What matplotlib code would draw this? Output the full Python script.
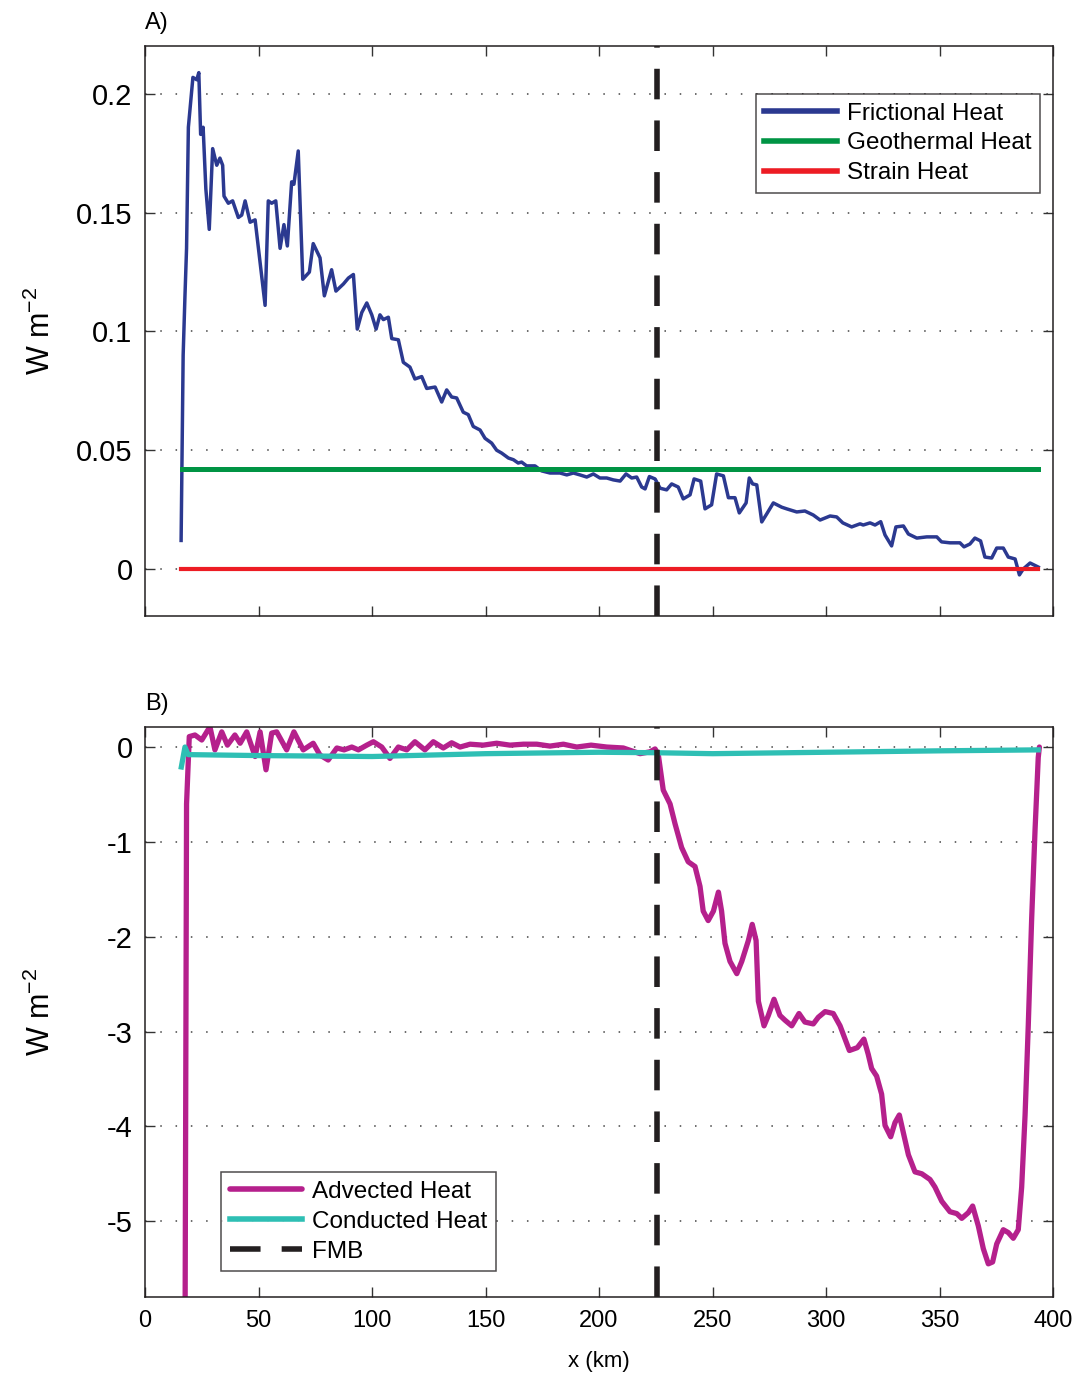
import matplotlib
matplotlib.use("Agg")
import matplotlib.pyplot as plt
import numpy as np

plt.rcParams["font.family"] = ["Liberation Sans", "DejaVu Sans"]
plt.rcParams["axes.unicode_minus"] = False
plt.rcParams["mathtext.fontset"] = "custom"
plt.rcParams["mathtext.rm"] = "Liberation Sans"
plt.rcParams["mathtext.it"] = "Liberation Sans:italic"

# ---- Panel A: heat sources along the flowline ----
fric_x = [15.9, 16.8, 17.6, 18.3, 19.1, 21.1, 22.8, 23.7, 24.5, 25.6, 26.8, 28.3, 29.8,
          31.6, 33.0, 34.2, 34.8, 36.7, 38.6, 41.1, 42.6, 44.1, 46.3, 48.5, 52.9, 54.3,
          55.8, 57.6, 59.5, 61.2, 62.7, 64.6, 65.6, 67.5, 69.5, 72.4, 74.1, 77.1, 79.0,
          82.2, 84.1, 87.4, 89.6, 91.8, 93.5, 95.5, 97.7, 99.9, 101.8, 103.5, 105.0,
          107.2, 108.7, 111.6, 113.8, 116.7, 118.9, 121.9, 124.1, 127.8, 130.7, 132.9,
          135.1, 137.3, 140.2, 142.4, 144.6, 147.6, 149.8, 152.7, 154.9, 157.1, 160.1,
          162.3, 164.4, 165.9, 168.1, 171.8, 174.7, 178.4, 182.8, 185.8, 188.7, 191.6,
          194.6, 197.5, 200.4, 203.4, 206.3, 209.3, 211.9, 214.4, 216.6, 218.8, 220.3,
          222.2, 224.7, 226.9, 229.8, 232.0, 234.9, 237.1, 240.1, 241.9, 244.8, 246.7,
          249.6, 251.8, 254.8, 257.0, 259.9, 261.8, 264.8, 266.2, 267.7, 269.5, 271.7,
          273.9, 276.8, 280.5, 282.7, 287.1, 290.7, 294.4, 297.4, 301.8, 304.7, 307.4,
          311.3, 315.0, 316.4, 319.4, 321.6, 324.1, 326.0, 328.9, 330.8, 334.1, 336.3,
          340.0, 344.4, 348.8, 350.9, 354.6, 359.0, 360.8, 363.4, 365.6, 368.1, 370.0,
          373.0, 375.2, 378.1, 380.3, 383.3, 385.2, 386.9, 389.9, 393.5]
fric_y = [0.012, 0.090, 0.115, 0.135, 0.186, 0.207, 0.206, 0.209, 0.183, 0.186, 0.160,
          0.143, 0.177, 0.170, 0.173, 0.170, 0.157, 0.154, 0.155, 0.148, 0.149, 0.155,
          0.146, 0.147, 0.111, 0.155, 0.154, 0.155, 0.135, 0.145, 0.136, 0.163, 0.162,
          0.176, 0.122, 0.125, 0.137, 0.131, 0.115, 0.126, 0.117, 0.120, 0.1225, 0.124,
          0.101, 0.108, 0.112, 0.107, 0.101, 0.107, 0.105, 0.106, 0.097, 0.0965, 0.087,
          0.085, 0.080, 0.081, 0.076, 0.0766, 0.0703, 0.0754, 0.0724, 0.072, 0.066,
          0.065, 0.060, 0.0585, 0.055, 0.053, 0.050, 0.0488, 0.0467, 0.046, 0.0446,
          0.045, 0.0434, 0.0434, 0.0413, 0.0404, 0.0404, 0.0396, 0.0404, 0.0396, 0.0387,
          0.040, 0.0383, 0.0383, 0.0375, 0.037, 0.040, 0.0383, 0.0387, 0.0345, 0.0337,
          0.0389, 0.0379, 0.034, 0.0333, 0.0358, 0.0345, 0.0295, 0.0312, 0.0379, 0.037,
          0.0253, 0.027, 0.040, 0.0392, 0.030, 0.030, 0.0236, 0.0278, 0.0383, 0.0358,
          0.0354, 0.0198, 0.0232, 0.0278, 0.026, 0.0253, 0.024, 0.0244, 0.0227, 0.0206,
          0.0223, 0.0219, 0.0194, 0.0177, 0.019, 0.0185, 0.0194, 0.0185, 0.0199, 0.0143,
          0.0097, 0.0177, 0.0181, 0.0147, 0.013, 0.0135, 0.0135, 0.0114, 0.011, 0.011,
          0.0093, 0.0105, 0.013, 0.0118, 0.005, 0.0046, 0.0088, 0.0088, 0.005, 0.0042,
          -0.0025, 0.0, 0.0025, 0.0008]

geo_x = [16.5, 393.5]
geo_y = [0.0421, 0.0421]
strain_x = [15.9, 393.5]
strain_y = [0.0, 0.0]

# ---- Panel B: advection and conduction ----
adv_x = [17.6, 18.3, 19.5, 22.0, 25.0, 28.6, 30.8, 33.8, 36.3, 39.6, 41.9, 44.8, 48.5,
         50.7, 53.3, 55.8, 58.0, 62.4, 65.6, 69.7, 74.1, 77.1, 80.7, 84.5, 87.7, 91.1,
         94.0, 97.7, 100.6, 104.3, 107.9, 111.6, 115.3, 118.9, 123.3, 127.0, 131.4,
         135.1, 138.8, 143.2, 149.0, 154.9, 160.8, 166.7, 172.6, 178.4, 184.3, 190.2,
         196.5, 203.4, 210.7, 218.1, 222.5, 224.7, 226.1, 228.3, 231.3, 233.5, 236.4,
         239.3, 242.3, 244.5, 245.9, 248.1, 250.4, 252.6, 254.0, 255.5, 257.7, 260.7,
         262.9, 265.8, 267.5, 269.2, 270.2, 272.7, 274.6, 277.1, 279.7, 281.9, 284.9,
         288.1, 290.7, 294.4, 296.6, 299.6, 303.2, 306.2, 310.3, 313.8, 316.7, 318.6,
         320.1, 322.3, 324.5, 326.0, 328.5, 330.4, 332.3, 334.1, 336.3, 339.2, 342.2,
         345.8, 348.0, 351.0, 354.6, 357.6, 359.8, 362.7, 364.6, 367.1, 369.3, 371.5,
         373.4, 375.2, 378.1, 380.3, 382.5, 384.7, 386.2, 387.7, 389.1, 390.6, 392.1,
         393.5, 394.0]
adv_y = [-6.5, -0.6, 0.11, 0.127, 0.074, 0.214, -0.03, 0.16, 0.02, 0.127, 0.04, 0.16,
         -0.10, 0.16, -0.24, 0.147, 0.16, -0.03, 0.16, -0.03, 0.04, -0.085, -0.137,
         -0.01, -0.03, 0.0, -0.03, 0.02, 0.056, 0.0, -0.12, 0.0, -0.03, 0.056, -0.03,
         0.056, -0.01, 0.045, 0.0, 0.03, 0.02, 0.04, 0.02, 0.03, 0.03, 0.01, 0.03, 0.0,
         0.02, 0.0, -0.01, -0.07, -0.05, -0.02, -0.077, -0.454, -0.60, -0.81, -1.06,
         -1.21, -1.26, -1.47, -1.73, -1.83, -1.73, -1.53, -1.73, -2.07, -2.26, -2.39,
         -2.26, -2.04, -1.87, -2.04, -2.68, -2.94, -2.83, -2.66, -2.83, -2.88, -2.94,
         -2.81, -2.90, -2.92, -2.85, -2.79, -2.81, -2.94, -3.20, -3.17, -3.08, -3.24,
         -3.39, -3.47, -3.66, -3.99, -4.11, -3.96, -3.88, -4.07, -4.30, -4.48, -4.50,
         -4.56, -4.64, -4.79, -4.90, -4.92, -4.97, -4.91, -4.84, -5.05, -5.29, -5.45,
         -5.43, -5.24, -5.09, -5.12, -5.18, -5.09, -4.64, -3.88, -2.94, -1.81, -0.87,
         -0.11, 0.0]

cond_x = [16.0, 17.6, 19.0, 50.0, 100.0, 150.0, 200.0, 225.0, 250.0, 300.0, 350.0, 393.5]
cond_y = [-0.21, 0.0, -0.08, -0.09, -0.10, -0.07, -0.055, -0.06, -0.07, -0.055, -0.04, -0.03]

fmb_x = 225.5

x_ticks = [0, 50, 100, 150, 200, 250, 300, 350, 400]
a_yticks = [0, 0.05, 0.1, 0.15, 0.2]
a_yticklabels = ["0", "0.05", "0.1", "0.15", "0.2"]
b_yticks = [-5, -4, -3, -2, -1, 0]
b_yticklabels = ["-5", "-4", "-3", "-2", "-1", "0"]

C_BLUE = "#2b3990"
C_GREEN = "#009444"
C_RED = "#ed1c24"
C_MAG = "#b5208c"
C_CYAN = "#2ebfb4"
C_BLACK = "#231f20"

fig = plt.figure(figsize=(10.83, 13.74), dpi=100)
axA = fig.add_axes([0.1339, 0.5517, 0.8384, 0.4148])
axB = fig.add_axes([0.1339, 0.0560, 0.8384, 0.4148])


def style(ax):
    ax.set_xlim(0, 400)
    ax.set_xticks(x_ticks)
    ax.tick_params(direction="in", top=True, right=True, length=7.5, width=1,
                   color="#333333")
    ax.tick_params(axis="x", labelsize=17, pad=9)
    ax.tick_params(axis="y", labelsize=21, pad=9)
    ax.yaxis.grid(True, linestyle=(0, (1, 9)), color="#444444", linewidth=1.1)
    ax.xaxis.grid(False)
    for s in ax.spines.values():
        s.set_linewidth(1.1)
        s.set_color("#231f20")
    ax.set_axisbelow(True)


def legend(ax, handles, labels, **kw):
    leg = ax.legend(handles, labels, fontsize=17.5, frameon=True, fancybox=False,
                    handlelength=3.0, handletextpad=0.4, borderpad=0.35,
                    labelspacing=0.32, borderaxespad=0, **kw)
    leg.get_frame().set_edgecolor(C_BLACK)
    leg.get_frame().set_linewidth(1.1)
    for h in leg.get_lines():
        h.set_linewidth(4)
    return leg


style(axA)
lf, = axA.plot(fric_x, fric_y, color=C_BLUE, lw=2.5, solid_joinstyle="round")
lg, = axA.plot(geo_x, geo_y, color=C_GREEN, lw=3.6)
ls, = axA.plot(strain_x, strain_y, color=C_RED, lw=3.0)
axA.axvline(fmb_x, color=C_BLACK, lw=4, dashes=(5.5, 3.8), zorder=5)
axA.set_ylim(-0.0198, 0.2202)
axA.set_yticks(a_yticks)
axA.set_yticklabels(a_yticklabels)
axA.tick_params(axis="x", labelbottom=False)
axA.set_ylabel("W m$^{-2}$", fontsize=22, labelpad=14)
axA.text(0.0, 1.04, "A)", transform=axA.transAxes, fontsize=17, ha="left", va="center")
legend(axA, [lf, lg, ls], ["Frictional Heat", "Geothermal Heat", "Strain Heat"],
       loc="upper right", bbox_to_anchor=(0.9857, 0.9158))

style(axB)
la, = axB.plot(adv_x, adv_y, color=C_MAG, lw=3.8, solid_joinstyle="round",
               solid_capstyle="round")
lc, = axB.plot(cond_x, cond_y, color=C_CYAN, lw=3.8)
lfmb = axB.axvline(fmb_x, color=C_BLACK, lw=4, dashes=(5.5, 3.8), zorder=5)
axB.set_ylim(-5.8, 0.21)
axB.set_yticks(b_yticks)
axB.set_yticklabels(b_yticklabels)
axB.set_xlabel("x (km)", fontsize=16, labelpad=14)
axB.set_ylabel("W m$^{-2}$", fontsize=22, labelpad=36)
axB.text(0.0, 1.04, "B)", transform=axB.transAxes, fontsize=17, ha="left", va="center")
legend(axB, [la, lc, lfmb], ["Advected Heat", "Conducted Heat", "FMB"],
       loc="lower left", bbox_to_anchor=(0.0837, 0.0456))

fig.savefig("out.png", dpi=100)
